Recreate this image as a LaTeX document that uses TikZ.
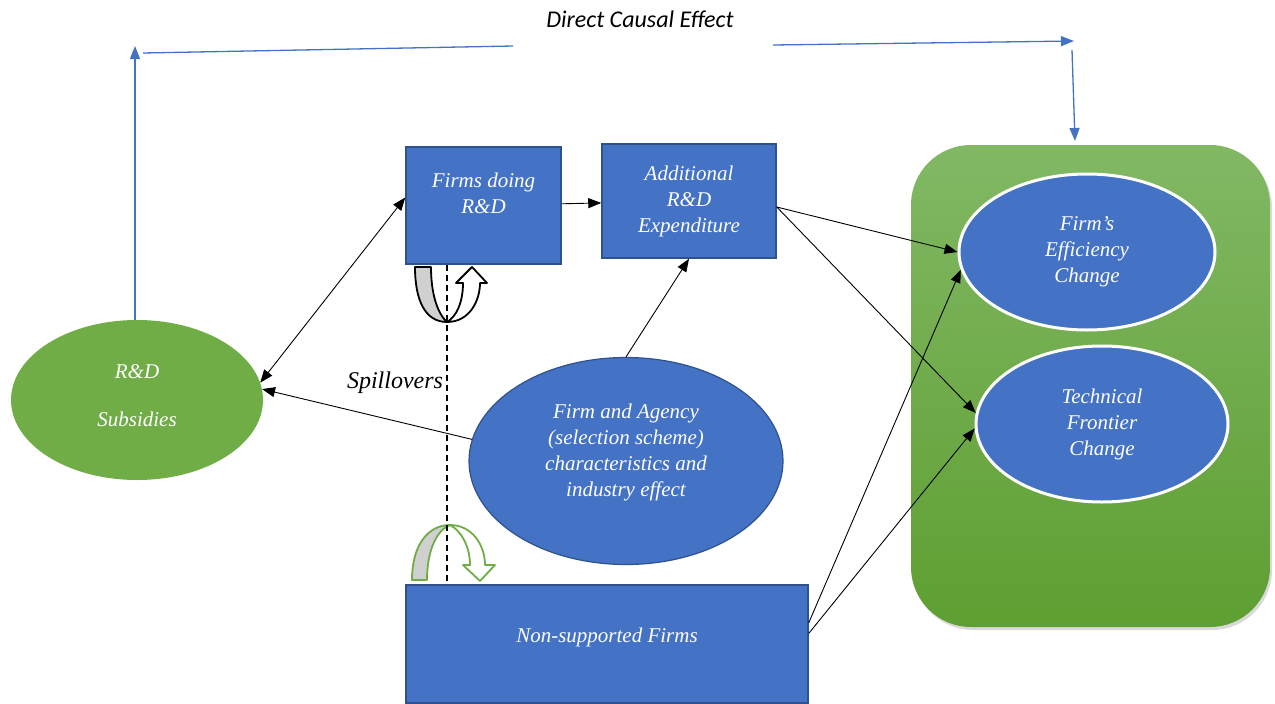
\documentclass[tikz,border=0pt]{standalone}
\usepackage{fontspec}
\setmainfont{Liberation Serif}
\newfontfamily\calibri{Carlito}
\usetikzlibrary{arrows.meta, positioning, shapes.geometric, shadows}
\definecolor{cBlue}{HTML}{4472C4}
\definecolor{cBlueDark}{HTML}{2F528F}
\definecolor{cGreen}{HTML}{70AD47}
\definecolor{cGreenTop}{HTML}{82B864}
\definecolor{cGreenBot}{HTML}{5E9F32}
\definecolor{cGrey}{HTML}{D0D0D0}
\tikzset{
	bluebox/.style  ={rectangle, draw=cBlueDark, line width=1.5pt, fill=cBlue, text=white, align=center, inner sep=2pt},
	blueoval/.style ={ellipse, draw=cBlueDark, line width=1.2pt, fill=cBlue, text=white, align=center, inner sep=0pt},
	resoval/.style  ={ellipse, draw=white, line width=3pt, fill=cBlue, text=white, align=center, inner sep=0pt},
	subsoval/.style ={ellipse, fill=cGreen, text=white, align=center, inner sep=0pt},
	effect/.style   ={>={Triangle[length=13pt,width=10pt]}, ->, line width=0.9pt},
	causal/.style   ={draw=cBlue, line width=1.3pt},
	causalarrow/.style={causal, -{Triangle[length=13pt,width=10pt]}},
	uturn/.style    ={line width=1.8pt, line join=round},
}

\begin{document}
\begin{tikzpicture}[x=1pt, y=-1pt, font=\itshape\fontsize{21}{26}\selectfont]
	\useasboundingbox (0,0) rectangle (1275,704);
	% result panel
	\node[rectangle, rounded corners=60pt, minimum width=359pt, minimum height=482pt, top color=cGreenTop, bottom color=cGreenBot, drop shadow={opacity=0.3, shadow xshift=2pt, shadow yshift=-3pt}] (grp) at (1090.5,386) {};
	\node[resoval, minimum width=256pt, minimum height=156pt] (eff) at (1087,252) {Firm’s\\Efficiency\\Change};
	\node[resoval, minimum width=252pt, minimum height=156pt] (tech) at (1102,424) {Technical\\Frontier\\Change};
	% left part
	\node[subsoval, minimum width=252pt, minimum height=160pt, text depth=8pt] (sub) at (137,400) {R\&D\\[22pt]Subsidies};
	\node[bluebox, minimum width=155pt, minimum height=117pt, text depth=24pt] (firms) at (483.5,205.5) {Firms doing\\R\&D};
	\node[bluebox, minimum width=174pt, minimum height=114pt] (add) at (689,201) {Additional\\R\&D\\Expenditure};
	\node[blueoval, minimum width=314pt, minimum height=207pt, text depth=22pt] (agency) at (626,461) {Firm and Agency\\(selection scheme)\\characteristics and\\industry effect};
	\node[bluebox, minimum width=402pt, minimum height=118pt, text depth=18pt] (nonsup) at (607,644) {Non-supported Firms};
	\node[font=\calibri\itshape\fontsize{24}{28}\selectfont] (dce) at (640,19) {Direct Causal Effect};
	\node[font=\itshape\fontsize{24}{28}\selectfont] (spl) at (395,383) {Spillovers};
	% direct causal effect line
	\coordinate (c1) at (135,46);
	\coordinate (c2) at (143,53);
	\coordinate (c3) at (513,46);
	\coordinate (c4) at (773,45);
	\coordinate (c5) at (1074,41);
	\coordinate (c6) at (1072,50);
	\coordinate (c7) at (1075,141);
	\draw[causalarrow] (sub.north -| c1) -- (c1);
	\draw[causal] (c2) -- (c3);
	\draw[causalarrow] (c4) -- (c5);
	\draw[causalarrow] (c6) -- (c7);
	% effects
	\draw[effect, <->] (sub.8) -- ([yshift=8pt]firms.west);
	\draw[effect] (firms) -- (add);
	\draw[effect] (agency.172) -- (sub.5);
	\draw[effect] (agency.north) -- (add.south);
	\draw[effect] ([yshift=-6pt]add.east) -- (eff.west);
	\draw[effect] ([yshift=-6pt]add.east) -- (tech.175);
	\draw[effect] (nonsup.6) -- (eff.188);
	\draw[effect] (nonsup.3) -- (tech.182);
	% spillover u-turns
	\filldraw[uturn, fill=white, draw=black] (447,322) .. controls (470,322) and (480,300) .. (480,283) -- (487,283) -- (472,267) -- (456,283) -- (463,283) .. controls (463,303) and (456,317) .. (447,322) -- cycle;
	\filldraw[uturn, fill=cGrey, draw=black] (415,267) -- (431,267) .. controls (431,295) and (438,314) .. (447,322) .. controls (425,322) and (415,300) .. (415,267) -- cycle;
	\filldraw[uturn, fill=white, draw=cGreen] (450,525) .. controls (472,525) and (485,545) .. (485,565) -- (495,565) -- (480,581) -- (463,565) -- (470,565) .. controls (470,545) and (460,530) .. (450,525) -- cycle;
	\filldraw[uturn, fill=cGrey, draw=cGreen] (412,580) .. controls (412,545) and (428,525) .. (450,525) .. controls (437,530) and (427,550) .. (427,580) -- cycle;
	\coordinate (spx) at (447,0);
	\draw[dashed, dash pattern=on 6pt off 4pt, line width=1.5pt] (spx |- firms.south) -- (spx |- nonsup.north);
\end{tikzpicture}
\end{document}
